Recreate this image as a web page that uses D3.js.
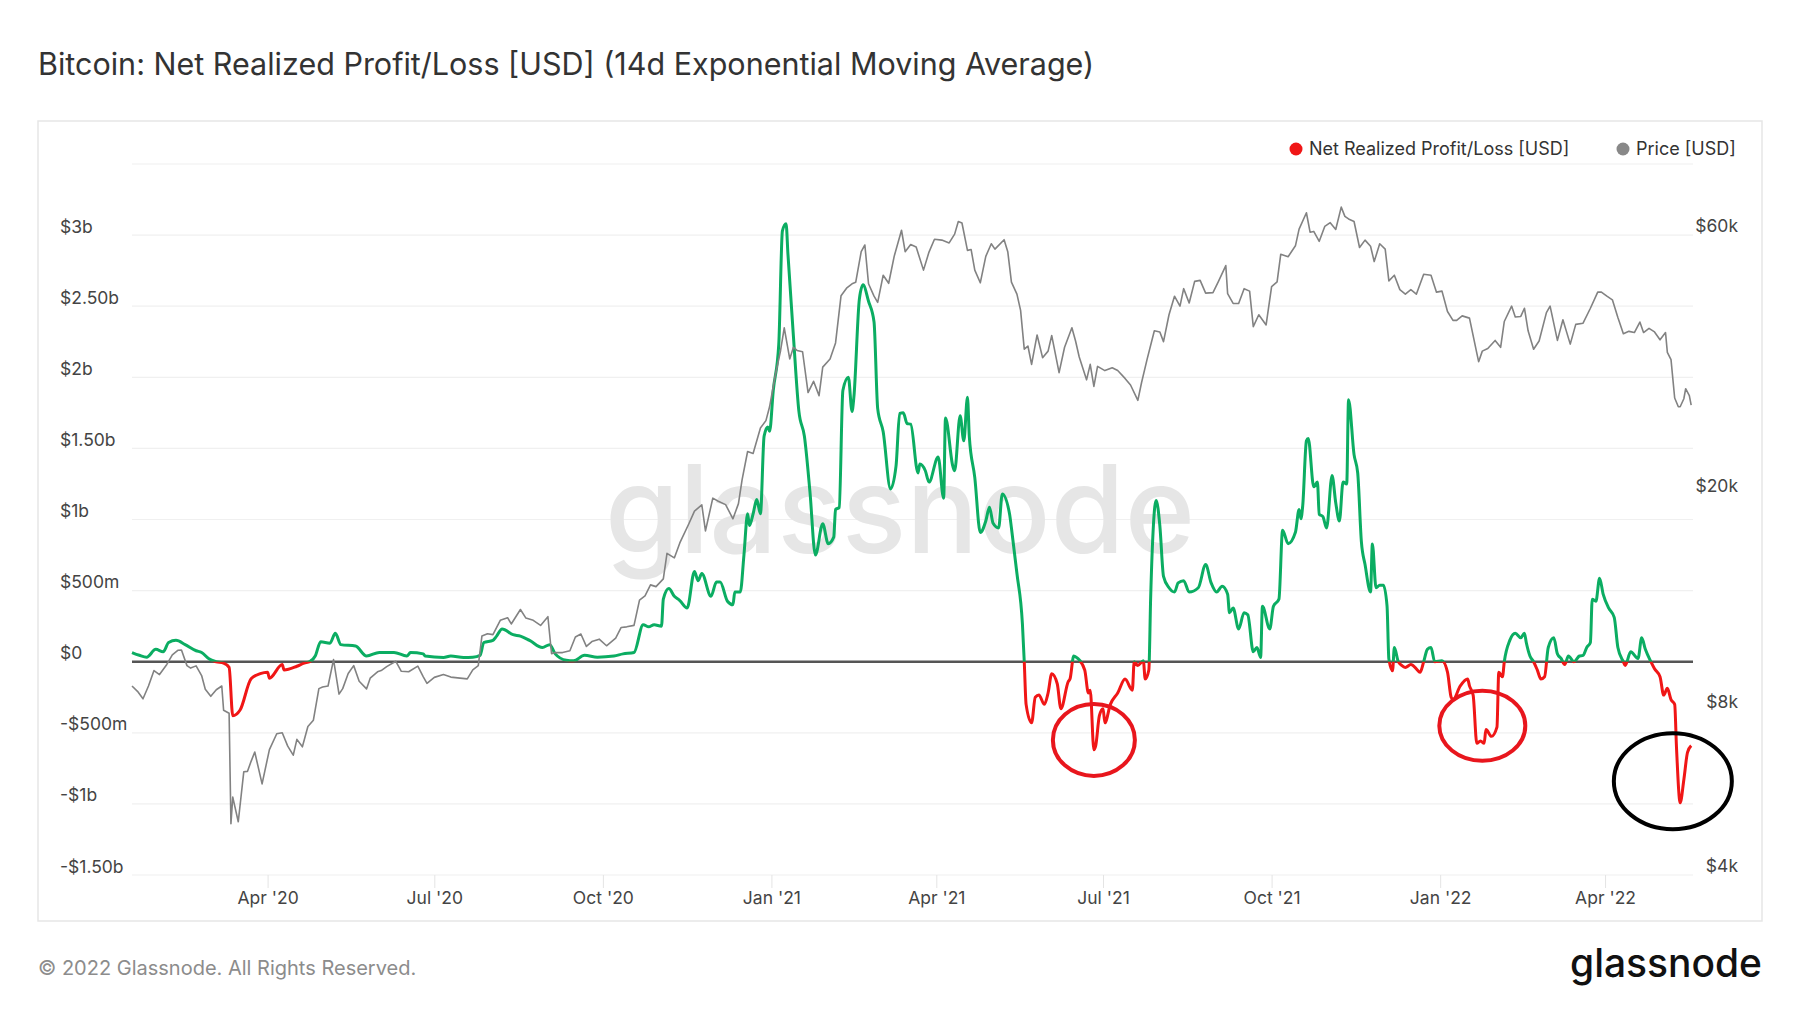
<!DOCTYPE html>
<html>
<head>
<meta charset="utf-8">
<script src="https://cdn.jsdelivr.net/npm/d3@7"></script>
<style>
  body { margin: 0; background: #fff; font-family: Inter, "Noto Sans", sans-serif; }
</style>
</head>
<body>
<div id="chart"></div>
<script>
// ---- data ----
// net realized profit/loss, 14d EMA, in USD billions
const nrplPoints = [
  ["2020-01-18",0.064],["2020-01-22",0.045],["2020-01-26",0.032],["2020-01-31",0.087],["2020-02-04",0.07],["2020-02-07",0.135],
  ["2020-02-11",0.15],["2020-02-16",0.12],["2020-02-22",0.077],["2020-02-25",0.065],["2020-02-29",0.02],["2020-03-04",0.0],
  ["2020-03-08",-0.01],["2020-03-11",-0.04],["2020-03-13",-0.38],["2020-03-17",-0.34],["2020-03-23",-0.12],["2020-03-28",-0.084],
  ["2020-04-01",-0.074],["2020-04-02",-0.116],["2020-04-09",-0.02],["2020-04-10",-0.058],["2020-04-17",-0.032],["2020-04-21",-0.01],
  ["2020-04-24",0.0],["2020-04-27",0.04],["2020-04-30",0.14],["2020-05-05",0.13],["2020-05-08",0.2],["2020-05-11",0.12],
  ["2020-05-19",0.11],["2020-05-25",0.04],["2020-06-01",0.065],["2020-06-09",0.065],["2020-06-16",0.04],["2020-06-18",0.064],
  ["2020-06-25",0.055],["2020-06-26",0.04],["2020-07-06",0.03],["2020-07-10",0.04],["2020-07-17",0.03],["2020-07-22",0.032],
  ["2020-07-26",0.045],["2020-07-28",0.135],["2020-08-02",0.15],["2020-08-04",0.18],["2020-08-07",0.23],["2020-08-13",0.19],
  ["2020-08-17",0.18],["2020-08-22",0.15],["2020-08-29",0.10],["2020-09-02",0.12],["2020-09-05",0.055],["2020-09-11",0.01],
  ["2020-09-15",0.006],["2020-09-21",0.045],["2020-09-28",0.032],["2020-10-07",0.04],["2020-10-12",0.055],["2020-10-18",0.065],
  ["2020-10-23",0.26],["2020-10-26",0.245],["2020-10-29",0.26],["2020-11-02",0.25],["2020-11-03",0.44],["2020-11-06",0.515],
  ["2020-11-09",0.46],["2020-11-12",0.43],["2020-11-16",0.377],["2020-11-20",0.635],["2020-11-22",0.57],["2020-11-24",0.62],
  ["2020-11-29",0.46],["2020-12-02",0.56],["2020-12-04",0.56],["2020-12-08",0.425],["2020-12-11",0.40],["2020-12-12",0.49],
  ["2020-12-15",0.49],["2020-12-17",0.75],["2020-12-19",1.04],["2020-12-20",0.957],["2020-12-22",1.04],["2020-12-24",1.14],
  ["2020-12-26",1.04],["2020-12-28",1.585],["2020-12-30",1.65],["2020-12-31",1.62],
  ["2021-01-02",1.907],["2021-01-05",2.23],["2021-01-07",3.03],["2021-01-09",3.08],["2021-01-10",2.87],["2021-01-13",2.29],
  ["2021-01-16",1.76],["2021-01-19",1.585],["2021-01-22",1.2],["2021-01-25",0.75],["2021-01-29",0.97],["2021-02-01",0.83],
  ["2021-02-04",0.876],["2021-02-05",1.07],["2021-02-07",1.085],["2021-02-09",1.907],["2021-02-12",2.0],["2021-02-14",1.76],
  ["2021-02-15",1.86],["2021-02-18",2.55],["2021-02-20",2.65],["2021-02-23",2.535],["2021-02-26",2.39],["2021-02-28",1.78],
  ["2021-03-03",1.617],["2021-03-07",1.215],["2021-03-10",1.375],["2021-03-12",1.746],["2021-03-14",1.75],["2021-03-16",1.675],
  ["2021-03-18",1.67],["2021-03-22",1.327],["2021-03-23",1.39],["2021-03-26",1.343],["2021-03-28",1.263],["2021-04-02",1.44],
  ["2021-04-05",1.15],["2021-04-06",1.714],["2021-04-10",1.375],["2021-04-11",1.343],["2021-04-14",1.73],["2021-04-16",1.553],
  ["2021-04-18",1.859],["2021-04-19",1.585],["2021-04-22",1.295],["2021-04-25",0.908],["2021-04-28",0.989],["2021-04-30",1.086],
  ["2021-05-02",0.973],["2021-05-05",0.94],["2021-05-07",1.18],["2021-05-11",1.037],["2021-05-12",0.94],["2021-05-15",0.62],
  ["2021-05-18",0.264],["2021-05-19",0.0],["2021-05-20",-0.3],["2021-05-23",-0.43],["2021-05-25",-0.25],["2021-05-27",-0.235],
  ["2021-05-30",-0.3],["2021-06-01",-0.22],["2021-06-03",-0.084],["2021-06-06",-0.155],["2021-06-08",-0.33],["2021-06-12",-0.14],
  ["2021-06-13",-0.12],["2021-06-15",0.04],["2021-06-17",0.025],["2021-06-21",-0.058],["2021-06-23",-0.22],["2021-06-24",-0.2],
  ["2021-06-26",-0.62],["2021-06-27",-0.59],["2021-06-29",-0.38],["2021-07-01",-0.33],["2021-07-02",-0.43],["2021-07-05",-0.3],
  ["2021-07-09",-0.22],["2021-07-13",-0.122],["2021-07-17",-0.2],["2021-07-18",0.0],["2021-07-20",-0.026],["2021-07-23",0.006],
  ["2021-07-24",-0.122],["2021-07-26",-0.058],["2021-07-27",0.457],["2021-07-30",1.134],["2021-08-01",0.957],["2021-08-03",0.6],
  ["2021-08-06",0.52],["2021-08-09",0.49],["2021-08-11",0.554],["2021-08-14",0.57],["2021-08-17",0.49],["2021-08-22",0.52],
  ["2021-08-26",0.683],["2021-08-29",0.554],["2021-09-01",0.49],["2021-09-04",0.53],["2021-09-07",0.474],["2021-09-08",0.345],
  ["2021-09-10",0.377],["2021-09-13",0.23],["2021-09-16",0.345],["2021-09-18",0.33],["2021-09-21",0.07],["2021-09-23",0.1],
  ["2021-09-25",0.03],["2021-09-26",0.39],["2021-09-30",0.23],["2021-10-02",0.39],["2021-10-05",0.44],["2021-10-07",0.925],
  ["2021-10-10",0.83],["2021-10-14",0.91],["2021-10-16",1.07],["2021-10-17",1.005],["2021-10-18",1.1],["2021-10-20",1.553],
  ["2021-10-21",1.57],["2021-10-24",1.23],["2021-10-26",1.263],["2021-10-27",1.037],["2021-10-29",1.02],["2021-10-31",0.94],
  ["2021-11-03",1.31],["2021-11-05",1.118],["2021-11-07",0.99],["2021-11-09",1.263],["2021-11-11",1.25],["2021-11-12",1.843],
  ["2021-11-15",1.456],["2021-11-17",1.327],["2021-11-19",0.844],["2021-11-21",0.683],["2021-11-24",0.49],["2021-11-25",0.828],
  ["2021-11-27",0.52],["2021-11-29",0.538],["2021-12-01",0.538],["2021-12-03",0.393],["2021-12-04",0.02],["2021-12-06",-0.064],
  ["2021-12-07",0.1],["2021-12-09",0.006],["2021-12-11",-0.026],["2021-12-13",-0.04],["2021-12-16",-0.02],["2021-12-19",-0.05],
  ["2021-12-21",-0.075],["2021-12-23",0.0],["2021-12-25",0.087],["2021-12-27",0.1],["2021-12-29",0.0],
  ["2022-01-02",0.006],["2022-01-05",-0.074],["2022-01-07",-0.25],["2022-01-08",-0.267],["2022-01-12",-0.17],["2022-01-16",-0.122],
  ["2022-01-17",-0.17],["2022-01-19",-0.235],["2022-01-21",-0.573],["2022-01-23",-0.557],["2022-01-25",-0.573],["2022-01-26",-0.477],
  ["2022-01-29",-0.525],["2022-02-01",-0.46],["2022-02-02",-0.074],["2022-02-04",-0.106],["2022-02-05",0.0],["2022-02-08",0.15],
  ["2022-02-11",0.2],["2022-02-14",0.168],["2022-02-16",0.2],["2022-02-17",0.135],["2022-02-19",0.04],["2022-02-21",0.0],
  ["2022-02-23",-0.058],["2022-02-25",-0.122],["2022-02-27",-0.106],["2022-03-01",0.1],["2022-03-04",0.168],["2022-03-06",0.055],
  ["2022-03-08",0.023],["2022-03-10",-0.02],["2022-03-12",0.04],["2022-03-15",0.0],["2022-03-18",0.04],["2022-03-20",0.045],
  ["2022-03-22",0.1],["2022-03-24",0.135],["2022-03-25",0.44],["2022-03-27",0.425],["2022-03-29",0.586],["2022-03-31",0.474],
  ["2022-04-03",0.377],["2022-04-06",0.312],["2022-04-08",0.1],["2022-04-11",0.0],["2022-04-12",-0.026],["2022-04-15",0.07],
  ["2022-04-19",0.023],["2022-04-21",0.168],["2022-04-23",0.087],["2022-04-26",0.0],["2022-04-28",-0.05],["2022-05-01",-0.106],
  ["2022-05-03",-0.235],["2022-05-05",-0.187],["2022-05-07",-0.267],["2022-05-09",-0.3],["2022-05-10",-0.606],["2022-05-12",-0.992],
  ["2022-05-14",-0.83],["2022-05-16",-0.638],["2022-05-18",-0.59]
];

// bitcoin price, USD
const pricePoints = [
  ["2020-01-18",8900],["2020-01-21",8700],["2020-01-24",8430],["2020-01-27",8900],["2020-01-30",9500],["2020-02-02",9340],
  ["2020-02-06",9750],["2020-02-09",10150],["2020-02-12",10350],["2020-02-14",10360],["2020-02-17",9700],["2020-02-19",9600],
  ["2020-02-22",9690],["2020-02-25",9300],["2020-02-27",8780],["2020-03-01",8520],["2020-03-04",8760],["2020-03-07",8900],
  ["2020-03-08",8030],["2020-03-11",7930],["2020-03-12",4970],["2020-03-13",5560],["2020-03-16",5010],["2020-03-19",6190],
  ["2020-03-21",6200],["2020-03-23",6470],["2020-03-25",6730],["2020-03-29",5880],["2020-04-02",6800],["2020-04-06",7270],
  ["2020-04-09",7300],["2020-04-12",6900],["2020-04-15",6640],["2020-04-17",7100],["2020-04-20",6880],["2020-04-23",7500],
  ["2020-04-26",7700],["2020-04-29",8800],["2020-05-01",8860],["2020-05-04",8900],["2020-05-07",9950],["2020-05-10",8600],
  ["2020-05-12",8800],["2020-05-15",9380],["2020-05-18",9700],["2020-05-21",9080],["2020-05-25",8790],["2020-05-27",9200],
  ["2020-05-31",9450],["2020-06-02",9500],["2020-06-05",9660],["2020-06-10",9880],["2020-06-13",9470],["2020-06-17",9450],
  ["2020-06-22",9680],["2020-06-25",9250],["2020-06-27",9000],["2020-07-01",9230],["2020-07-06",9340],["2020-07-10",9240],
  ["2020-07-15",9200],["2020-07-19",9170],["2020-07-22",9530],["2020-07-25",9700],["2020-07-27",11000],["2020-07-30",11100],
  ["2020-08-02",11060],["2020-08-06",11750],["2020-08-10",11880],["2020-08-12",11570],["2020-08-17",12300],["2020-08-20",11860],
  ["2020-08-24",11750],["2020-08-28",11500],["2020-09-01",11930],["2020-09-03",10200],["2020-09-05",10250],["2020-09-09",10250],
  ["2020-09-13",10330],["2020-09-16",10950],["2020-09-19",11090],["2020-09-22",10520],["2020-09-25",10740],["2020-09-29",10850],
  ["2020-10-03",10550],["2020-10-08",10900],["2020-10-11",11400],["2020-10-14",11430],["2020-10-18",11500],["2020-10-21",12800],
  ["2020-10-24",13030],["2020-10-27",13650],["2020-10-30",13550],["2020-11-03",14000],["2020-11-05",15600],["2020-11-09",15300],
  ["2020-11-12",16300],["2020-11-17",17700],["2020-11-20",18650],["2020-11-24",19150],["2020-11-26",17150],["2020-11-30",19700],
  ["2020-12-03",19450],["2020-12-07",19170],["2020-12-11",18050],["2020-12-14",19250],["2020-12-16",21300],["2020-12-19",24000],
  ["2020-12-22",23800],["2020-12-26",26500],["2020-12-29",27350],["2020-12-31",29000],
  ["2021-01-03",33000],["2021-01-06",36800],["2021-01-08",40500],["2021-01-11",35500],["2021-01-13",37300],["2021-01-15",36800],
  ["2021-01-18",36600],["2021-01-21",30800],["2021-01-24",32300],["2021-01-27",30400],["2021-01-29",34300],["2021-02-02",35500],
  ["2021-02-05",38000],["2021-02-08",46400],["2021-02-11",47900],["2021-02-14",48800],["2021-02-16",49100],["2021-02-19",55900],
  ["2021-02-21",57500],["2021-02-23",48800],["2021-02-26",46300],["2021-02-28",45100],["2021-03-03",50600],["2021-03-06",48900],
  ["2021-03-09",54800],["2021-03-13",61200],["2021-03-15",55900],["2021-03-18",57600],["2021-03-21",57000],["2021-03-25",51700],
  ["2021-03-28",55800],["2021-03-31",58900],["2021-04-04",58700],["2021-04-08",58000],["2021-04-11",60200],["2021-04-13",63500],
  ["2021-04-15",63100],["2021-04-18",56200],["2021-04-20",56400],["2021-04-22",51700],["2021-04-25",49000],["2021-04-28",54800],
  ["2021-05-01",57800],["2021-05-03",56500],["2021-05-05",57400],["2021-05-08",58800],["2021-05-10",55900],["2021-05-12",49150],
  ["2021-05-15",46700],["2021-05-17",43600],["2021-05-19",37000],["2021-05-21",37500],["2021-05-23",34700],["2021-05-26",39300],
  ["2021-05-29",35700],["2021-06-01",36700],["2021-06-03",39200],["2021-06-07",33500],["2021-06-10",37300],["2021-06-14",40500],
  ["2021-06-16",38300],["2021-06-18",35800],["2021-06-22",32500],["2021-06-24",34700],["2021-06-26",31600],["2021-06-28",34400],
  ["2021-07-02",33800],["2021-07-06",34200],["2021-07-09",33800],["2021-07-13",32700],["2021-07-16",31800],["2021-07-20",29800],
  ["2021-07-22",32100],["2021-07-25",35400],["2021-07-29",40000],["2021-08-01",39800],["2021-08-03",38200],["2021-08-06",42800],
  ["2021-08-09",46300],["2021-08-12",44400],["2021-08-14",47800],["2021-08-17",45000],["2021-08-20",49300],["2021-08-23",49500],
  ["2021-08-26",46900],["2021-08-30",47000],["2021-09-02",49300],["2021-09-06",52700],["2021-09-07",46800],["2021-09-10",44900],
  ["2021-09-13",44900],["2021-09-16",47800],["2021-09-19",47300],["2021-09-21",40700],["2021-09-24",42800],["2021-09-28",41000],
  ["2021-10-01",48200],["2021-10-04",49200],["2021-10-06",55300],["2021-10-10",54700],["2021-10-14",57300],["2021-10-16",61500],
  ["2021-10-20",65900],["2021-10-22",60700],["2021-10-24",60900],["2021-10-27",58400],["2021-10-30",62200],["2021-11-02",63200],
  ["2021-11-05",61400],["2021-11-08",67500],["2021-11-10",64900],["2021-11-12",64200],["2021-11-15",63500],["2021-11-18",56900],
  ["2021-11-21",58700],["2021-11-24",57200],["2021-11-26",53600],["2021-11-29",57800],["2021-12-02",56500],["2021-12-04",49400],
  ["2021-12-07",50600],["2021-12-10",47600],["2021-12-13",46700],["2021-12-16",47600],["2021-12-19",46700],["2021-12-23",50800],
  ["2021-12-27",50600],["2021-12-30",47100],
  ["2022-01-02",47300],["2022-01-05",43400],["2022-01-08",41800],["2022-01-10",41800],["2022-01-13",42600],["2022-01-17",42200],
  ["2022-01-21",36400],["2022-01-22",35100],["2022-01-24",36700],["2022-01-27",37100],["2022-01-31",38400],["2022-02-03",37300],
  ["2022-02-05",41600],["2022-02-09",44400],["2022-02-11",42400],["2022-02-14",42500],["2022-02-16",44000],["2022-02-18",40000],
  ["2022-02-21",37000],["2022-02-24",38300],["2022-02-28",43200],["2022-03-02",44400],["2022-03-06",38400],["2022-03-09",41900],
  ["2022-03-13",37800],["2022-03-16",41100],["2022-03-20",41300],["2022-03-24",44000],["2022-03-28",47100],["2022-03-30",47100],
  ["2022-04-02",46300],["2022-04-05",45600],["2022-04-08",42300],["2022-04-11",39500],["2022-04-14",39900],["2022-04-17",39700],
  ["2022-04-20",41500],["2022-04-22",39700],["2022-04-25",40400],["2022-04-28",39800],["2022-05-01",38500],["2022-05-04",39700],
  ["2022-05-05",36500],["2022-05-07",35400],["2022-05-09",30100],["2022-05-11",29000],["2022-05-12",29000],["2022-05-14",30000],
  ["2022-05-15",31300],["2022-05-17",30400],["2022-05-18",29200]
];

const xDomain = ["2020-01-18", "2022-05-19"];
const nrplDomain = [-1.5, 3.5];
const priceDomain = [4000, 81000];

const gridValues = [-1.5, -1, -0.5, 0, 0.5, 1, 1.5, 2, 2.5, 3, 3.5];
const leftTicks = [-1.5, -1, -0.5, 0, 0.5, 1, 1.5, 2, 2.5, 3];
const leftTickLabels = ["-$1.50b", "-$1b", "-$500m", "$0", "$500m", "$1b", "$1.50b", "$2b", "$2.50b", "$3b"];
const priceTicks = [4000, 8000, 20000, 60000];
const priceTickLabels = ["$4k", "$8k", "$20k", "$60k"];
const monthTicks = ["2020-04-01", "2020-07-01", "2020-10-01", "2021-01-01", "2021-04-01", "2021-07-01", "2021-10-01", "2022-01-01", "2022-04-01"];
const monthTickLabels = ["Apr '20", "Jul '20", "Oct '20", "Jan '21", "Apr '21", "Jul '21", "Oct '21", "Jan '22", "Apr '22"];

const legendLabels = ["Net Realized Profit/Loss [USD]", "Price [USD]"];
// hand drawn circles: centre date, centre value (billions)
const annotationCenters = [["2021-06-26", -0.55], ["2022-01-24", -0.45], ["2022-05-08", -0.84]];

// ---- layout ----
const W = 1800, H = 1013,
    plot = {left: 132, right: 1693, top: 164, bottom: 875},
    green = "#0bad62", red = "#f01616", priceGrey = "#828282",
    font = "Inter, 'Noto Sans', sans-serif",
    tickFont = 17.5;

const parse = d3.utcParse("%Y-%m-%d");

const svg = d3.select("#chart").append("svg")
    .attr("width", W)
    .attr("height", H)
    .style("font-family", font);

// title
svg.append("text")
    .attr("x", 38).attr("y", 75)
    .attr("font-size", 30.5).attr("font-weight", 400)
    .attr("fill", "#333")
    .text("Bitcoin: Net Realized Profit/Loss [USD] (14d Exponential Moving Average)");

// frame
svg.append("rect")
    .attr("x", 38).attr("y", 121)
    .attr("width", 1724).attr("height", 800)
    .attr("fill", "none").attr("stroke", "#e6e6e6").attr("stroke-width", 1.5);

const x = d3.scaleUtc()
    .domain(xDomain.map(parse))
    .range([plot.left, plot.right]);

const y = d3.scaleLinear()
    .domain(nrplDomain)
    .range([plot.bottom, plot.top]);

const yPrice = d3.scaleLog()
    .domain(priceDomain)
    .range([plot.bottom, plot.top]);

// gridlines
svg.append("g")
    .selectAll("line")
    .data(gridValues)
    .enter().append("line")
    .attr("x1", plot.left).attr("x2", plot.right)
    .attr("y1", d => y(d)).attr("y2", d => y(d))
    .attr("stroke", "#f0f0f0").attr("stroke-width", 1.2);

// watermark
svg.append("text")
    .attr("x", 605).attr("y", 553)
    .attr("font-size", 122).attr("font-weight", 500)
    .attr("textLength", 590).attr("lengthAdjust", "spacingAndGlyphs")
    .attr("fill", "#e6e6e6")
    .text("glassnode");

// x axis
const xAxis = svg.append("g")
    .attr("transform", "translate(0," + plot.bottom + ")")
    .call(d3.axisBottom(x)
        .tickValues(monthTicks.map(parse))
        .tickFormat((d, i) => monthTickLabels[i])
        .tickSize(13)
        .tickPadding(4));
xAxis.select(".domain").remove();
xAxis.selectAll("line").attr("stroke", "#e4e4e4");
xAxis.selectAll("text")
    .attr("font-size", tickFont).attr("fill", "#444").style("font-family", font);

// left axis
const yAxis = svg.append("g")
    .call(d3.axisLeft(y)
        .tickValues(leftTicks)
        .tickFormat((d, i) => leftTickLabels[i])
        .tickSize(0));
yAxis.select(".domain").remove();
yAxis.selectAll("text")
    .attr("x", 60).attr("dy", "-3")
    .attr("text-anchor", "start")
    .attr("font-size", tickFont).attr("fill", "#444").style("font-family", font);

// right axis
const yAxisR = svg.append("g")
    .call(d3.axisRight(yPrice)
        .tickValues(priceTicks)
        .tickFormat((d, i) => priceTickLabels[i])
        .tickSize(0));
yAxisR.select(".domain").remove();
yAxisR.selectAll("text")
    .attr("x", 1738).attr("dy", "-3.5")
    .attr("text-anchor", "end")
    .attr("font-size", tickFont).attr("fill", "#444").style("font-family", font);

// zero line
svg.append("line")
    .attr("x1", plot.left).attr("x2", plot.right)
    .attr("y1", y(0)).attr("y2", y(0))
    .attr("stroke", "#555").attr("stroke-width", 2.5);

// profit / loss line, green above zero and red below
const defs = svg.append("defs");
defs.append("clipPath").attr("id", "above")
    .append("rect")
    .attr("x", plot.left - 5).attr("y", 0)
    .attr("width", plot.right - plot.left + 10).attr("height", y(0));
defs.append("clipPath").attr("id", "below")
    .append("rect")
    .attr("x", plot.left - 5).attr("y", y(0))
    .attr("width", plot.right - plot.left + 10).attr("height", H - y(0));

const nrplLine = d3.line()
    .x(d => x(parse(d[0])))
    .y(d => y(d[1]))
    .curve(d3.curveMonotoneX);

[["above", green], ["below", red]].forEach(([clip, colour]) => {
    svg.append("path")
        .datum(nrplPoints)
        .attr("clip-path", "url(#" + clip + ")")
        .attr("fill", "none")
        .attr("stroke", colour)
        .attr("stroke-width", 3)
        .attr("stroke-linejoin", "round")
        .attr("d", nrplLine);
});

// price line
const priceLine = d3.line()
    .x(d => x(parse(d[0])))
    .y(d => yPrice(d[1]));

svg.append("path")
    .datum(pricePoints)
    .attr("fill", "none")
    .attr("stroke", priceGrey)
    .attr("stroke-width", 1.6)
    .attr("stroke-linejoin", "round")
    .attr("d", priceLine);

// hand drawn circles
const circleRadii = [[41, 36], [43, 35], [59, 48]],
    circleColours = ["#e8161d", "#e8161d", "#000"];
svg.append("g")
    .selectAll("ellipse")
    .data(annotationCenters)
    .enter().append("ellipse")
    .attr("cx", d => x(parse(d[0])))
    .attr("cy", d => y(d[1]))
    .attr("rx", (d, i) => circleRadii[i][0])
    .attr("ry", (d, i) => circleRadii[i][1])
    .attr("fill", "none")
    .attr("stroke", (d, i) => circleColours[i])
    .attr("stroke-width", 4);

// legend
const legendX = [1296, 1623], legendColours = [red, "#888"];
const legend = svg.append("g");
legend.selectAll("circle")
    .data(legendLabels)
    .enter().append("circle")
    .attr("cx", (d, i) => legendX[i]).attr("cy", 149)
    .attr("r", 6.5)
    .attr("fill", (d, i) => legendColours[i]);
legend.selectAll("text")
    .data(legendLabels)
    .enter().append("text")
    .attr("x", (d, i) => legendX[i] + 13).attr("y", 149)
    .attr("dy", "0.35em")
    .attr("font-size", 18).attr("fill", "#333")
    .text(d => d);

// footer
svg.append("text")
    .attr("x", 38).attr("y", 975)
    .attr("font-size", 20).attr("fill", "#8c8c8c")
    .text("\u00a9 2022 Glassnode. All Rights Reserved.");

svg.append("text")
    .attr("x", 1570).attr("y", 977)
    .attr("font-size", 39).attr("font-weight", 500)
    .attr("textLength", 192).attr("lengthAdjust", "spacingAndGlyphs")
    .attr("fill", "#111")
    .text("glassnode");
</script>
</body>
</html>
